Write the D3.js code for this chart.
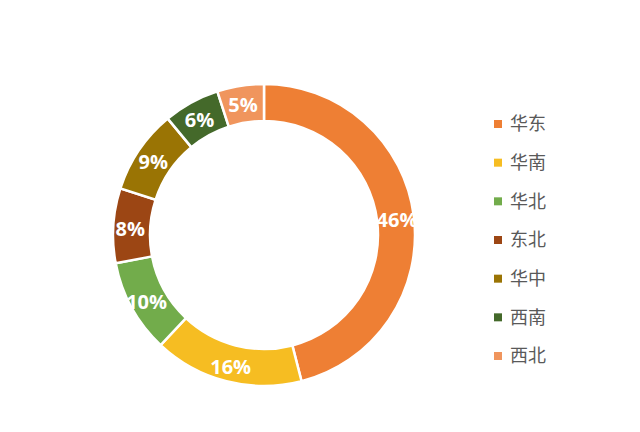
<!DOCTYPE html>
<html><head><meta charset="utf-8">
<script src="https://cdn.jsdelivr.net/npm/d3@7"></script>
<style>body{margin:0;background:#fff}svg{display:block}</style>
</head><body>
<svg id="c" width="640" height="432"></svg>
<script>
const regions = ["华东","华南","华北","东北","华中","西南","西北"];
const shares = [46,16,10,8,9,6,5];
const colors = ["#EE7F34","#F6BD22","#72AC4B","#9C4614","#9A7404","#44692A","#F0955D"];

const svg = d3.select("#c");
const cx = 264, cy = 235, rOut = 151, rIn = 114;
const data = regions.map((r,i)=>({name:r, value:shares[i], color:colors[i]}));
const pie = d3.pie().value(d=>d.value).sort(null);
const arc = d3.arc().innerRadius(rIn).outerRadius(rOut);
const labelArc = d3.arc().innerRadius(134).outerRadius(134);
const g = svg.append("g").attr("transform",`translate(${cx},${cy})`);
const arcs = pie(data);
g.selectAll("path").data(arcs).join("path")
  .attr("d",arc).attr("fill",d=>d.data.color)
  .attr("stroke","#fff").attr("stroke-width",2.5);
g.selectAll("text").data(arcs).join("text")
  .attr("transform",d=>`translate(${labelArc.centroid(d)})`)
  .attr("text-anchor","middle").attr("dy","0.45em")
  .attr("fill","#fff").attr("font-family","'Open Sans',sans-serif")
  .attr("font-weight","bold").attr("font-size",20)
  .text(d=>d.data.value+"%");

const leg = svg.append("g");
const ly = d3.scalePoint().domain(regions).range([124,356]);
const items = leg.selectAll("g").data(data).join("g")
  .attr("transform",d=>`translate(494,${ly(d.name)})`);
items.append("rect").attr("x",0).attr("y",-4).attr("width",8).attr("height",8).attr("fill",d=>d.color);
items.append("text").attr("x",16).attr("dy","0.36em")
  .attr("font-family","'Noto Sans CJK SC',sans-serif").attr("font-size",18)
  .attr("fill","#595959").text(d=>d.name);
</script>
</body></html>
